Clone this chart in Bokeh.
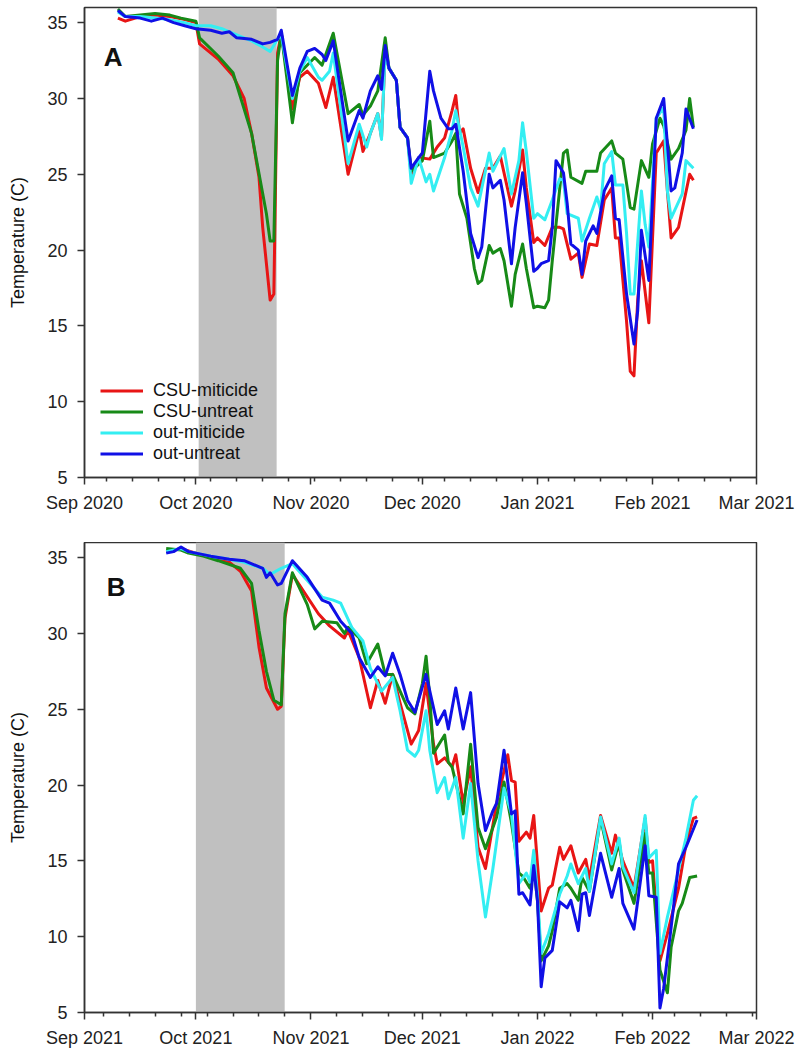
import pandas as pd
from bokeh.plotting import figure
from bokeh.layouts import column
from bokeh.models import (Range1d, FixedTicker, DatetimeTickFormatter, BoxAnnotation,
                          Legend, LegendItem, Label)
from bokeh.embed import file_html
from bokeh.resources import INLINE

FONT = "Liberation Sans"
SERIES = ["CSU-miticide", "CSU-untreat", "out-miticide", "out-untreat"]
COLORS = ["#e81515", "#178a17", "#33eef2", "#1010e6"]
Y_TICKS = [5, 10, 15, 20, 25, 30, 35]

# ---------------- Panel A (season 2020-21) ----------------
a_red_dates = ["9/10", "9/12", "9/16", "9/20", "9/24", "9/28", "10/1", "10/2", "10/7", "10/11", "10/14",
               "10/16", "10/18", "10/19", "10/21", "10/22", "10/23", "10/24", "10/27", "10/29", "10/31",
               "11/3", "11/5", "11/7", "11/11", "11/14", "11/15", "11/17", "11/19", "11/20", "11/21",
               "11/22", "11/24", "11/25", "11/27", "11/28", "11/30", "12/3", "12/5", "12/7", "12/9",
               "12/10", "12/11", "12/12", "12/14", "12/16", "12/18", "12/20", "12/22", "12/25", "12/26",
               "12/28", "12/29", "12/31", "1/1", "1/3", "1/5", "1/7", "1/8", "1/10", "1/12", "1/13",
               "1/15", "1/17", "1/19", "1/21", "1/22", "1/23", "1/25", "1/26", "1/27", "1/28", "1/29",
               "1/31", "2/2", "2/4", "2/5", "2/6", "2/8", "2/11", "2/12"]
a_red_vals = [35.3, 35.1, 35.4, 35.5, 35.4, 35.2, 35.0, 33.6, 32.6, 31.5, 30.0,
              27.7, 24.8, 21.5, 16.7, 17.1, 33.0, 34.3, 29.3, 31.4, 31.8,
              31.0, 29.4, 31.4, 25.0, 27.9, 26.5, 27.7, 29.0, 27.4, 33.1,
              32.0, 31.2, 28.1, 27.4, 25.0, 26.1, 26.0, 26.8, 27.4, 29.2,
              30.2, 27.7, 28.0, 25.4, 23.8, 25.4, 25.4, 26.2, 22.9, 23.9,
              26.6, 24.1, 20.5, 20.8, 20.3, 21.5, 21.5, 21.4, 19.4, 19.8, 18.2,
              20.4, 20.3, 23.3, 24.1, 20.8, 20.8, 15.3, 12.0, 11.7, 16.7, 19.3,
              15.2, 26.4, 27.2, 23.9, 20.8, 21.5, 25.0, 24.6]

a_green_dates = ["9/10", "9/12", "9/16", "9/20", "9/24", "9/27", "10/1", "10/2", "10/7", "10/11", "10/16",
                 "10/20", "10/21", "10/22", "10/23", "10/24", "10/27", "10/29", "11/2", "11/4", "11/7",
                 "11/11", "11/14", "11/15", "11/17", "11/19", "11/21", "11/22", "11/24", "11/25", "11/27",
                 "11/28", "12/1", "12/3", "12/4", "12/7", "12/9", "12/10", "12/11", "12/13", "12/15",
                 "12/16", "12/17", "12/19", "12/20", "12/22", "12/23", "12/25", "12/26", "12/28", "12/29",
                 "12/31", "1/1", "1/3", "1/4", "1/5", "1/6", "1/8", "1/9", "1/10", "1/13", "1/14", "1/17",
                 "1/18", "1/21", "1/22", "1/24", "1/26", "1/27", "1/29", "1/31", "2/1", "2/3", "2/4",
                 "2/6", "2/8", "2/10", "2/11", "2/12"]
a_green_vals = [35.9, 35.4, 35.5, 35.6, 35.5, 35.3, 35.1, 34.0, 32.8, 31.7, 27.7,
                22.4, 20.6, 20.6, 32.5, 34.3, 28.4, 31.7, 32.7, 32.2, 34.3,
                29.0, 29.6, 28.9, 29.5, 30.5, 34.0, 32.0, 31.2, 28.1, 27.4,
                25.2, 25.9, 28.5, 26.1, 26.4, 27.2, 27.7, 23.7, 22.1, 18.8,
                17.8, 18.0, 20.3, 19.8, 20.1, 19.3, 16.3, 18.4, 20.4, 18.8,
                16.2, 16.3, 16.2, 16.7, 19.3, 21.7, 26.4, 26.6, 24.8, 24.4, 25.2, 25.2,
                26.4, 27.2, 26.4, 26.0, 22.8, 22.7, 25.9, 24.8, 27.0, 28.7, 28.2,
                26.0, 26.7, 27.9, 30.0, 28.1]

a_cyan_dates = ["9/10", "9/12", "9/16", "9/20", "9/24", "9/28", "10/1", "10/5", "10/8", "10/12", "10/16",
                "10/19", "10/21", "10/23", "10/24", "10/27", "10/29", "10/31", "11/3", "11/4", "11/6",
                "11/7", "11/11", "11/14", "11/16", "11/17", "11/19", "11/20", "11/21", "11/22", "11/24",
                "11/25", "11/27", "11/28", "11/30", "12/2", "12/3", "12/4", "12/7", "12/9", "12/10",
                "12/12", "12/14", "12/16", "12/19", "12/20", "12/23", "12/25", "12/27", "12/28", "12/29",
                "12/31", "1/1", "1/3", "1/5", "1/7", "1/8", "1/9", "1/12", "1/13", "1/15", "1/17", "1/18",
                "1/19", "1/21", "1/22", "1/24", "1/25", "1/26", "1/27", "1/29", "1/30", "1/31", "2/2",
                "2/4", "2/5", "2/6", "2/9", "2/10", "2/12"]
a_cyan_vals = [35.7, 35.4, 35.4, 35.3, 35.2, 35.0, 34.8, 34.8, 34.6, 34.2, 33.8,
               33.4, 33.1, 33.9, 34.2, 30.0, 31.8, 32.7, 31.4, 31.2, 31.8,
               33.0, 25.7, 28.3, 26.8, 27.7, 29.0, 27.3, 33.1, 32.0, 31.2,
               28.1, 27.4, 24.4, 26.1, 24.5, 25.0, 23.9, 26.1, 27.9, 29.2,
               26.8, 24.1, 22.9, 26.4, 25.2, 26.7, 23.7, 25.9, 28.4, 26.5,
               22.1, 22.4, 22.0, 23.3, 24.7, 24.6, 22.4, 22.1, 20.6, 22.1, 23.5, 22.7,
               25.7, 26.5, 24.3, 24.3, 21.1, 17.1, 17.1, 23.9, 21.7, 20.2, 28.7,
               29.4, 23.9, 22.1, 23.7, 25.9, 25.4]

a_blue_dates = ["9/10", "9/12", "9/16", "9/19", "9/22", "9/25", "9/28", "10/1", "10/5", "10/8", "10/10",
                "10/12", "10/16", "10/19", "10/21", "10/23", "10/24", "10/27", "10/29", "10/31", "11/2",
                "11/4", "11/5", "11/7", "11/11", "11/14", "11/15", "11/17", "11/19", "11/20", "11/21",
                "11/22", "11/24", "11/25", "11/27", "11/28", "11/30", "12/1", "12/3", "12/4", "12/6",
                "12/8", "12/9", "12/10", "12/12", "12/14", "12/16", "12/17", "12/19", "12/20", "12/22",
                "12/23", "12/25", "12/26", "12/28", "12/29", "12/31", "1/1", "1/2", "1/4", "1/5", "1/6",
                "1/8", "1/9", "1/10", "1/12", "1/13", "1/14", "1/16", "1/17", "1/19", "1/21", "1/22",
                "1/23", "1/25", "1/27", "1/28", "1/29", "1/31", "2/2", "2/4", "2/5", "2/6", "2/7",
                "2/9", "2/10", "2/12"]
a_blue_vals = [35.8, 35.4, 35.3, 35.1, 35.3, 35.0, 34.8, 34.6, 34.5, 34.3, 34.4,
               34.0, 33.9, 33.6, 33.7, 33.9, 34.5, 30.2, 32.0, 33.1, 33.3,
               32.9, 32.5, 33.8, 27.2, 29.2, 28.7, 30.5, 31.5, 30.6, 33.5,
               32.0, 31.2, 28.1, 27.4, 25.4, 26.1, 26.4, 31.8, 30.5, 28.7,
               28.0, 28.0, 28.3, 25.2, 21.1, 19.5, 20.2, 25.0, 24.1, 24.6,
               23.3, 19.1, 21.5, 25.1, 23.1, 18.6, 18.8, 19.1, 19.3, 21.5, 25.9,
               25.1, 23.1, 20.4, 20.0, 18.4, 20.6, 21.6, 21.1, 23.9, 24.9, 22.1,
               22.0, 17.1, 13.8, 16.0, 21.3, 18.0, 28.7, 30.0, 27.0, 23.9, 24.1,
               26.4, 29.3, 28.0]

# ---------------- Panel B (season 2021-22) ----------------
b_red_dates = ["9/23", "9/27", "10/1", "10/5", "10/10", "10/13", "10/16", "10/18", "10/20", "10/23",
               "10/24", "10/25", "10/27", "11/3", "11/6", "11/10", "11/11", "11/14", "11/17", "11/19",
               "11/21", "11/23", "11/25", "11/28", "11/30", "12/2", "12/4", "12/5", "12/7", "12/9",
               "12/10", "12/12", "12/14", "12/16", "12/18", "12/21", "12/24", "12/25", "12/26", "12/27",
               "12/29", "12/30", "12/31", "1/1", "1/2", "1/4", "1/5", "1/7", "1/8", "1/10", "1/12",
               "1/14", "1/15", "1/18", "1/21", "1/22", "1/24", "1/27", "1/30", "1/31", "2/1", "2/3",
               "2/5", "2/8", "2/10", "2/12", "2/13"]
b_red_vals = [35.4, 35.6, 35.3, 35.0, 34.7, 34.1, 32.8, 29.1, 26.4, 25.0,
              25.2, 31.0, 33.9, 31.3, 30.5, 29.7, 30.2, 28.4, 25.1, 26.9,
              25.4, 27.3, 25.4, 22.7, 23.6, 26.7, 22.7, 21.4, 21.8, 21.2,
              22.0, 18.8, 21.2, 15.9, 14.5, 18.8, 22.0, 20.3, 20.2, 16.3,
              16.9, 16.5, 18.0, 14.8, 11.7, 13.2, 13.4, 15.9, 15.1, 16.0, 14.2,
              15.1, 13.8, 18.0, 15.5, 16.7, 15.0, 13.2, 17.8, 14.9, 15.0, 8.4,
              10.2, 13.2, 16.1, 17.8, 17.9]

b_green_dates = ["9/23", "9/27", "9/29", "10/3", "10/7", "10/13", "10/16", "10/18", "10/20", "10/22",
                 "10/24", "10/25", "10/27", "10/31", "11/2", "11/4", "11/8", "11/10", "11/11", "11/14",
                 "11/16", "11/19", "11/21", "11/23", "11/27", "11/29", "12/1", "12/2", "12/3", "12/4",
                 "12/7", "12/8", "12/9", "12/12", "12/14", "12/16", "12/18", "12/21", "12/23", "12/25",
                 "12/27", "12/28", "12/30", "12/31", "1/1", "1/2", "1/4", "1/5", "1/7", "1/9", "1/10",
                 "1/12", "1/13", "1/15", "1/18", "1/21", "1/23", "1/24", "1/27", "1/30", "1/31", "2/1",
                 "2/3", "2/5", "2/6", "2/8", "2/9", "2/11", "2/13"]
b_green_vals = [35.6, 35.5, 35.3, 35.1, 34.8, 34.3, 33.3, 30.2, 27.5, 25.6,
                25.3, 31.3, 34.0, 31.9, 30.3, 30.8, 30.7, 30.0, 30.4, 29.7,
                28.0, 29.3, 27.3, 27.3, 25.1, 24.7, 26.7, 28.5, 25.8, 22.1,
                23.3, 21.5, 21.2, 18.1, 22.7, 17.2, 15.8, 17.9, 20.2, 17.5,
                14.2, 14.0, 13.2, 14.6, 12.4, 8.4, 9.4, 10.4, 13.2, 13.5, 13.2,
                12.4, 13.9, 13.0, 17.8, 14.4, 16.3, 14.4, 12.2, 16.8, 14.2, 14.2,
                7.8, 6.3, 9.3, 11.7, 12.2, 13.9, 14.0]

b_cyan_dates = ["9/23", "9/27", "9/29", "10/5", "10/10", "10/14", "10/19", "10/21", "10/24", "10/27",
                "11/4", "11/7", "11/9", "11/12", "11/15", "11/17", "11/20", "11/23", "11/25", "11/27",
                "11/29", "11/30", "12/2", "12/3", "12/5", "12/7", "12/8", "12/10", "12/12", "12/14",
                "12/16", "12/18", "12/20", "12/23", "12/25", "12/27", "12/29", "12/30", "12/31", "1/1",
                "1/2", "1/4", "1/7", "1/9", "1/10", "1/12", "1/14", "1/15", "1/18", "1/21", "1/23",
                "1/24", "1/27", "1/30", "1/31", "2/2", "2/3", "2/5", "2/8", "2/10", "2/12", "2/13"]
b_cyan_vals = [35.4, 35.6, 35.4, 35.1, 34.9, 34.7, 34.3, 33.9, 34.3, 34.6,
               32.4, 32.2, 32.0, 30.4, 29.5, 27.7, 26.2, 27.1, 24.9, 22.3,
               21.9, 22.3, 24.9, 22.3, 19.5, 20.5, 19.1, 20.5, 16.5, 20.1,
               15.0, 11.3, 14.5, 19.8, 18.1, 13.5, 14.2, 13.6, 15.7, 12.8,
               8.9, 10.2, 12.8, 14.0, 14.8, 13.5, 14.5, 13.0, 17.9, 14.8, 16.5,
               14.6, 12.9, 18.0, 15.2, 15.7, 8.9, 11.3, 14.4, 16.5, 19.0, 19.3]

b_blue_dates = ["9/23", "9/25", "9/27", "9/29", "10/5", "10/10", "10/14", "10/19", "10/20", "10/21",
                "10/23", "10/24", "10/27", "10/31", "11/4", "11/6", "11/9", "11/12", "11/14", "11/17",
                "11/19", "11/21", "11/23", "11/25", "11/27", "11/29", "12/2", "12/5", "12/7", "12/8",
                "12/10", "12/12", "12/14", "12/16", "12/18", "12/20", "12/21", "12/23", "12/25", "12/26",
                "12/27", "12/28", "12/30", "12/31", "1/1", "1/2", "1/3", "1/5", "1/7", "1/9", "1/10",
                "1/12", "1/13", "1/14", "1/15", "1/18", "1/21", "1/23", "1/24", "1/27", "1/30", "1/31",
                "2/2", "2/3", "2/4", "2/6", "2/8", "2/10", "2/13"]
b_blue_vals = [35.3, 35.4, 35.7, 35.4, 35.1, 34.9, 34.8, 34.3, 33.7, 34.0,
               33.2, 33.3, 34.8, 33.7, 32.2, 32.0, 30.8, 30.0, 28.4, 27.1,
               27.8, 27.2, 28.7, 27.3, 25.6, 24.8, 27.3, 24.0, 24.9, 23.7,
               26.4, 23.7, 26.1, 20.1, 17.0, 18.3, 18.8, 22.3, 18.1, 18.3,
               12.8, 12.9, 12.1, 14.7, 12.4, 6.7, 8.6, 9.1, 12.3, 11.9, 12.4,
               10.4, 12.8, 12.9, 11.4, 15.5, 12.6, 14.5, 12.2, 10.5, 16.0, 12.7,
               12.6, 5.3, 6.6, 10.6, 14.8, 15.9, 17.7]

SHADE_A = ("2020-10-01 18:00", "2020-10-22 18:00")
SHADE_B = ("2021-10-01 00:00", "2021-10-24 22:00")


def to_ts(md, y0):
    m, d = (int(s) for s in md.split("/"))
    return pd.Timestamp(year=y0 if m >= 9 else y0 + 1, month=m, day=d)


def ms(ts):
    return pd.Timestamp(ts).value / 1e6


def make_panel(y0, series, letter, letter_pos, height, top_border, bottom_border, shade,
               with_legend):
    x0 = pd.Timestamp(y0, 9, 1)
    x1 = pd.Timestamp(y0 + 1, 3, 1)
    p = figure(width=796, height=height, x_axis_type="datetime",
               x_range=Range1d(x0, x1), y_range=Range1d(5, 36),
               output_backend="svg", toolbar_location=None,
               min_border_left=84, min_border_right=40, min_border_top=top_border,
               min_border_bottom=bottom_border)
    p.grid.visible = False
    p.background_fill_color = "white"
    p.border_fill_color = "white"
    p.outline_line_color = "#333333"
    p.outline_line_width = 1.5

    box = BoxAnnotation(left=ms(shade[0]), right=ms(shade[1]), fill_color="#c0c0c0",
                        fill_alpha=1.0, line_color=None, level="underlay")
    p.add_layout(box)

    renderers = []
    for (dates, vals), color in zip(series, COLORS):
        assert len(dates) == len(vals)
        xs = [to_ts(d, y0) for d in dates]
        r = p.line(xs, vals, line_color=color, line_width=3, line_join="round")
        renderers.append(r)

    month_starts = list(pd.date_range(x0, x1, freq="MS"))
    mondays = [d for d in pd.date_range(x0, x1, freq="W-MON") if d.day != 1]
    p.xaxis.ticker = FixedTicker(ticks=[ms(t) for t in month_starts],
                                 minor_ticks=[ms(t) for t in mondays])
    fmt = "%b %Y"
    p.xaxis.formatter = DatetimeTickFormatter(days=fmt, months=fmt, years=fmt, hours=fmt,
                                              hourmin=fmt, minutes=fmt)
    p.yaxis.ticker = FixedTicker(ticks=Y_TICKS)

    for ax in (p.xaxis, p.yaxis):
        ax.axis_line_color = "#333333"
        ax.axis_line_width = 1.5
        ax.major_tick_line_color = "#333333"
        ax.major_tick_line_width = 1.5
        ax.minor_tick_line_color = "#333333"
        ax.minor_tick_line_width = 1.5
        ax.major_tick_in = 0
        ax.major_tick_out = 7
        ax.minor_tick_in = 0
        ax.minor_tick_out = 4
        ax.major_label_text_font = FONT
        ax.major_label_text_font_size = "18px"
        ax.major_label_text_color = "#222222"
    p.yaxis.minor_tick_line_color = None
    p.xaxis.major_label_standoff = 8
    p.yaxis.major_label_standoff = 10
    p.yaxis.axis_label = "Temperature (C)"
    p.yaxis.axis_label_text_font = FONT
    p.yaxis.axis_label_text_font_size = "18px"
    p.yaxis.axis_label_text_font_style = "normal"
    p.yaxis.axis_label_text_color = "#111111"
    p.yaxis.axis_label_standoff = 16

    span = ms(x1) - ms(x0)
    p.add_layout(Label(x=ms(x0) + span * (letter_pos[0] / 181), y=letter_pos[1], text=letter,
                       text_font=FONT, text_font_size="26px", text_font_style="bold",
                       text_color="#111111", text_baseline="alphabetic"))

    if with_legend:
        items = [LegendItem(label=name, renderers=[r]) for name, r in zip(SERIES, renderers)]
        leg = Legend(items=items, location=(16, 13), padding=0, margin=0, spacing=0,
                     label_text_font=FONT, label_text_font_size="18px",
                     label_text_color="#111111", label_height=21, glyph_height=21,
                     glyph_width=43, label_standoff=10,
                     border_line_color=None, background_fill_alpha=0)
        p.add_layout(leg)
    return p


pA = make_panel(2020, [(a_red_dates, a_red_vals), (a_green_dates, a_green_vals),
                       (a_cyan_dates, a_cyan_vals), (a_blue_dates, a_blue_vals)],
                "A", (5.2, 32.75), 542, 7, 65, SHADE_A, True)
pB = make_panel(2021, [(b_red_dates, b_red_vals), (b_green_dates, b_green_vals),
                       (b_cyan_dates, b_cyan_vals), (b_blue_dates, b_blue_vals)],
                "B", (6.0, 33.05), 510, 0, 40, SHADE_B, False)

layout = column(pA, pB, spacing=0)
open("out.html", "w").write(file_html(layout, INLINE))
